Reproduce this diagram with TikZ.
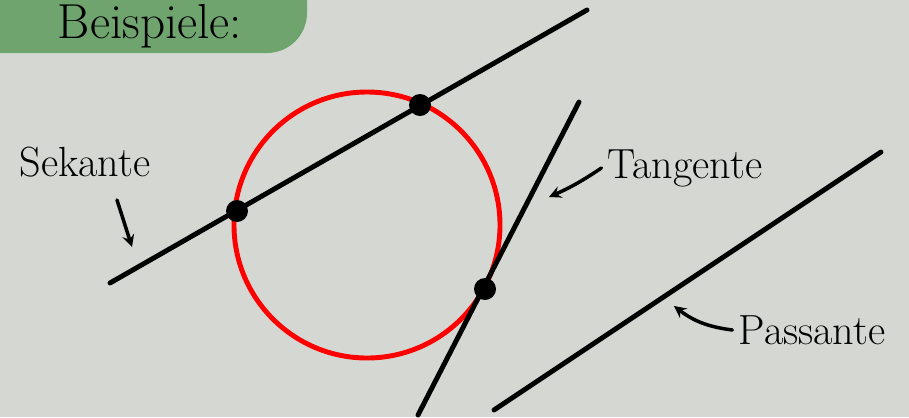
\documentclass[tikz,border=0pt]{standalone}
\usepackage{amsmath}
\usepackage{tikz}
\usetikzlibrary{arrows, positioning}

\definecolor{boardgray}{HTML}{D5D8D2}
\definecolor{headgreen}{HTML}{6FA46F}

\begin{document}
\begin{tikzpicture}[
    x=0.02cm, y=-0.02cm,
    line/.style={draw, line width=2.8pt, line cap=round},
    kreis/.style={draw=red, line width=2.8pt},
    punkt/.style={circle, fill=black, inner sep=0pt, minimum size=0.44cm},
    label/.style={font=\fontsize{24}{28}\selectfont},
    arrow/.style={draw, line width=2pt, ->, >=stealth, line cap=round}
]
    % Background
    \fill[boardgray] (0,0) rectangle (909,417);
    \useasboundingbox (0,0) rectangle (909,417);
    \begin{scope}
    \clip (0,0) rectangle (909,417);
    \fill[headgreen, rounded corners=0.8cm] (-60,-60) rectangle (307,53);
    \end{scope}
    \node[font=\fontsize{28}{32}\selectfont, anchor=base] (beispiele) at (150,38) {Beispiele:};

    % Circle
    \coordinate (m) at (367,225);
    \draw[kreis] (m) circle[radius=133];

    % Sekante
    \coordinate (s0) at (110,283);
    \coordinate (s3) at (587,10);
    \node[punkt] (s1) at (237,211) {};
    \node[punkt] (s2) at (420,105) {};
    \draw[line] (s0) -- (s3);

    % Tangente
    \coordinate (t0) at (418,415);
    \coordinate (t2) at (579,102);
    \node[punkt] (t1) at (485,289) {};
    \draw[line] (t0) -- (t2);

    % Passante
    \coordinate (p0) at (494,410);
    \coordinate (p1) at (881,152);
    \draw[line] (p0) -- (p1);

    % Labels
    \node[label] (sekante) at (85,162) {Sekante};
    \coordinate (sa) at (132,247);
    \draw[arrow] (117,200) -- (sa);

    \node[label] (tangente) at (685,168) {Tangente};
    \coordinate (ta) at (549,197);
    \draw[arrow] (tangente.west) to[bend left=5] (ta);

    \node[label] (passante) at (812,330) {Passante};
    \coordinate (pa) at (674,306);
    \draw[arrow] (passante.west) to[bend left=15] (pa);
\end{tikzpicture}
\end{document}
